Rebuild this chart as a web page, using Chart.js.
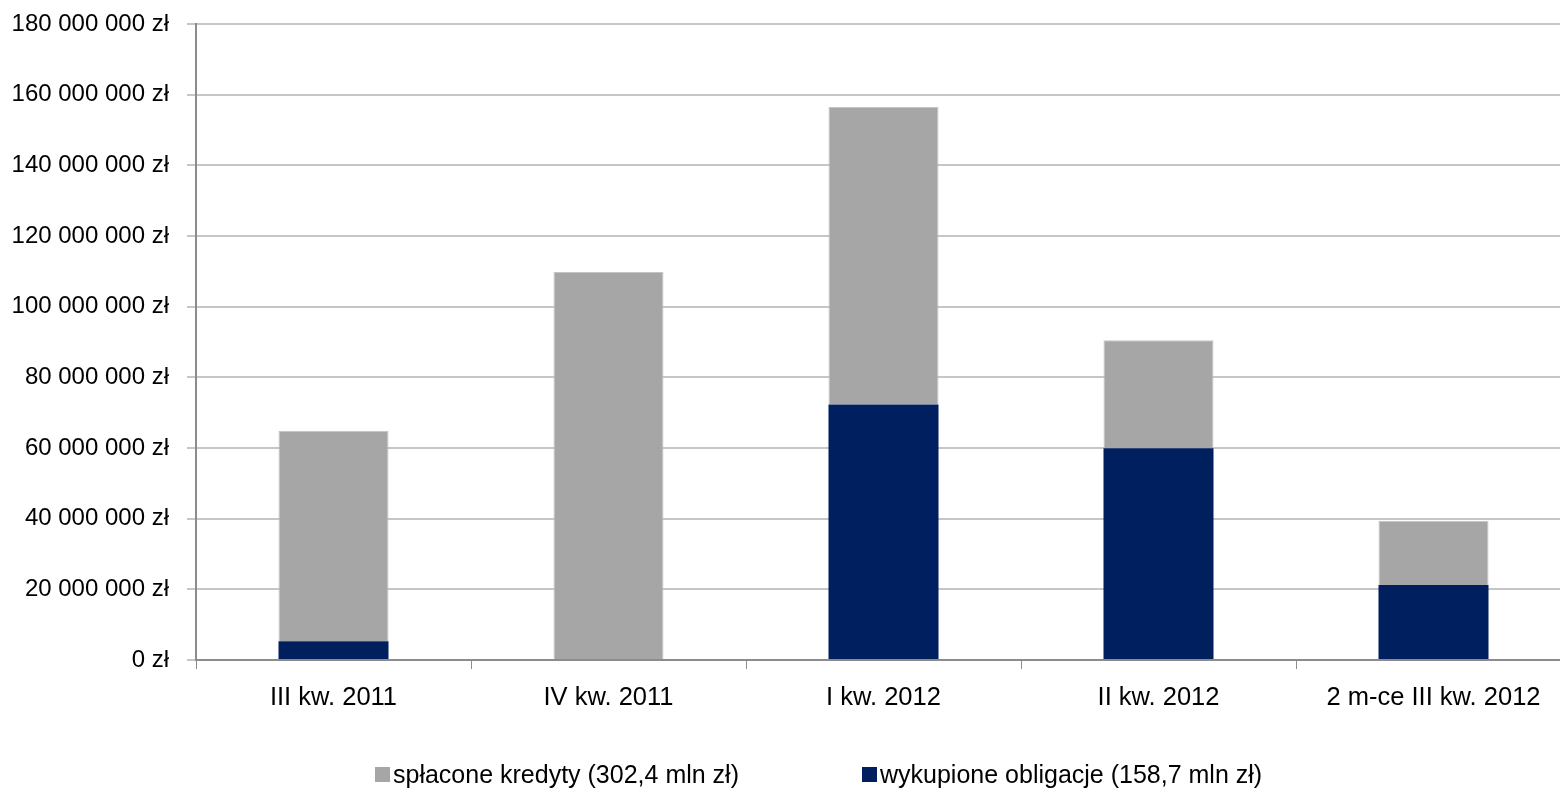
<!DOCTYPE html>
<html lang="pl">
<head>
<meta charset="utf-8">
<title>Spłacone kredyty i wykupione obligacje</title>
<script src="https://cdn.jsdelivr.net/npm/chart.js@4.4.1/dist/chart.umd.min.js"></script>
<style>
  html, body {
    margin: 0;
    padding: 0;
    background: #fff;
    overflow: hidden;
  }
  .wrap {
    position: relative;
    width: 1572px;
    height: 799px;
  }
  .legend-item {
    position: absolute;
    top: 760px;
    display: flex;
    align-items: center;
    font-family: "Liberation Sans", Arial, sans-serif;
    font-size: 25px;
    color: #000;
    white-space: nowrap;
  }
  .legend-item .box {
    width: 15px;
    height: 15px;
    margin-right: 3px;
  }
</style>
</head>
<body>
<div class="wrap">
  <canvas id="chart" width="1572" height="799"></canvas>
  <div class="legend-item" style="left: 375px;"><span class="box" style="background:#a6a6a6"></span>spłacone kredyty (302,4 mln zł)</div>
  <div class="legend-item" style="left: 862px;"><span class="box" style="background:#001f5f"></span>wykupione obligacje (158,7 mln zł)</div>
</div>
<script>
const FONT = "'Liberation Sans', Arial, sans-serif";

const categories = [
  "III kw. 2011",
  "IV kw. 2011",
  "I kw. 2012",
  "II kw. 2012",
  "2 m-ce III kw. 2012",
];

// values in mln zł
const splaconeKredyty = [59.6, 109.8, 84.2, 30.6, 18.2];
const wykupioneObligacje = [5.3, 0, 72.3, 59.9, 21.2];

const Y_MAX = 180000000;
const Y_STEP = 20000000;

const GREY = "#a6a6a6";
const NAVY = "#001f5f";

function formatZl(value) {
  return String(Math.round(value)).replace(/\B(?=(\d{3})+(?!\d))/g, " ") + " zł";
}

const toZl = (arr) => arr.map((v) => v * 1000000);

new Chart(document.getElementById("chart"), {
  type: "bar",
  data: {
    labels: categories,
    datasets: [
      {
        label: "wykupione obligacje (158,7 mln zł)",
        data: toZl(wykupioneObligacje),
        backgroundColor: NAVY,
        borderWidth: 0,
        categoryPercentage: 1,
        barPercentage: 0.4,
      },
      {
        label: "spłacone kredyty (302,4 mln zł)",
        data: toZl(splaconeKredyty),
        backgroundColor: GREY,
        borderColor: "#c4c4c4",
        borderWidth: 1,
        categoryPercentage: 1,
        barPercentage: 0.4,
      },
    ],
  },
  options: {
    responsive: false,
    animation: false,
    layout: {
      padding: { top: 24, right: 1, bottom: 0, left: 0 },
    },
    plugins: {
      legend: { display: false },
      tooltip: { enabled: false },
    },
    scales: {
      x: {
        stacked: true,
        afterFit: (scale) => {
          scale.height = 139;
        },
        grid: {
          offset: true,
          drawOnChartArea: false,
          color: "#8c8c8c",
          tickLength: 9,
        },
        border: { color: "#8c8c8c", width: 2 },
        ticks: {
          color: "#000",
          padding: 14,
          font: { family: FONT, size: 25.5 },
          maxRotation: 0,
        },
      },
      y: {
        stacked: true,
        min: 0,
        max: Y_MAX,
        afterFit: (scale) => {
          // fixed axis width; top of the plot is set by layout padding only
          scale.width = 196;
          scale.paddingTop = 0;
          scale.paddingBottom = 0;
        },
        grid: {
          color: "#c6c6c6",
          lineWidth: 2,
          tickLength: 9,
        },
        border: { color: "#8c8c8c", width: 2 },
        ticks: {
          stepSize: Y_STEP,
          color: "#000",
          padding: 18,
          font: { family: FONT, size: 24 },
          callback: (value) => formatZl(value),
        },
      },
    },
  },
});
</script>
</body>
</html>
